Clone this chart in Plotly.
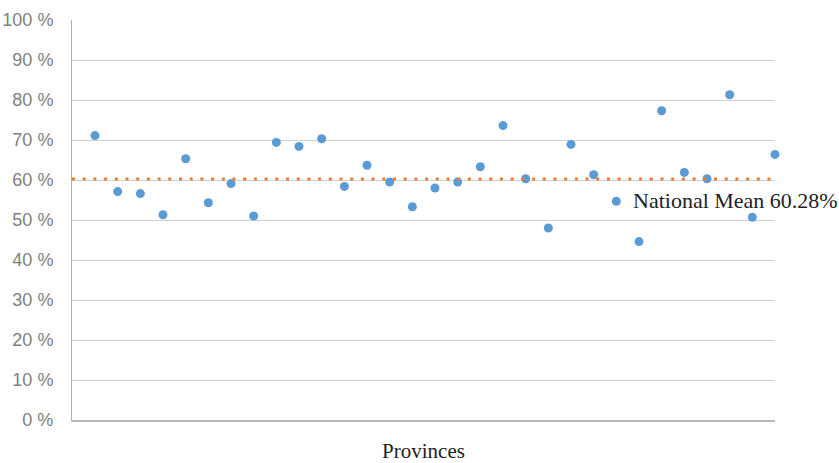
import plotly.graph_objects as go

provinces = list(range(31))
rates = [71.1, 57.1, 56.6, 51.3, 65.3, 54.3, 59.1, 51.0, 69.4, 68.4, 70.3,
         58.4, 63.7, 59.5, 53.3, 58.0, 59.5, 63.3, 73.6, 60.3, 48.0, 68.9,
         61.3, 54.7, 44.6, 77.3, 61.9, 60.3, 81.3, 50.7, 66.4]
national_mean = 60.28
mean_label = "National Mean 60.28%"
label_index = 23
y_ticks = [0, 10, 20, 30, 40, 50, 60, 70, 80, 90, 100]
y_ticktext = [f"{v} %" for v in y_ticks]

fig = go.Figure()
fig.add_trace(go.Scatter(
    x=provinces, y=rates, mode="markers",
    marker=dict(color="#5B9BD5", size=9),
    cliponaxis=False, showlegend=False,
))

fig.add_shape(type="line", xref="paper", x0=0, x1=1, yref="y",
              y0=national_mean, y1=national_mean,
              line=dict(color="#ED7D31", width=3, dash="3px,7.7px"))

fig.add_annotation(x=provinces[label_index], y=rates[label_index],
                   text=mean_label, showarrow=False, xanchor="left",
                   xshift=15, yshift=1,
                   font=dict(family="Liberation Serif", size=22, color="#222222"))

fig.update_layout(
    width=839, height=463,
    margin=dict(l=72, r=64, t=20, b=43),
    plot_bgcolor="white", paper_bgcolor="white",
    xaxis=dict(range=[-1.015, 30], showticklabels=False, showgrid=False,
               zeroline=False, showline=True, linecolor="#B8B8B8", linewidth=1.5,
               automargin=False,
               title=dict(text="Provinces", standoff=24,
                          font=dict(family="Liberation Serif", size=21, color="#222222"))),
    yaxis=dict(range=[0, 100], tickvals=y_ticks, ticktext=y_ticktext,
               showgrid=True, gridcolor="#D0D0D0", gridwidth=1,
               zeroline=False, showline=True, linecolor="#B0B0B0", linewidth=1,
               ticklabelstandoff=14, automargin=False,
               tickfont=dict(family="Liberation Sans", size=18, color="#808080")),
)

fig.write_html("out.html", config={"displayModeBar": False},
               post_script="document.body.style.margin='0';")
